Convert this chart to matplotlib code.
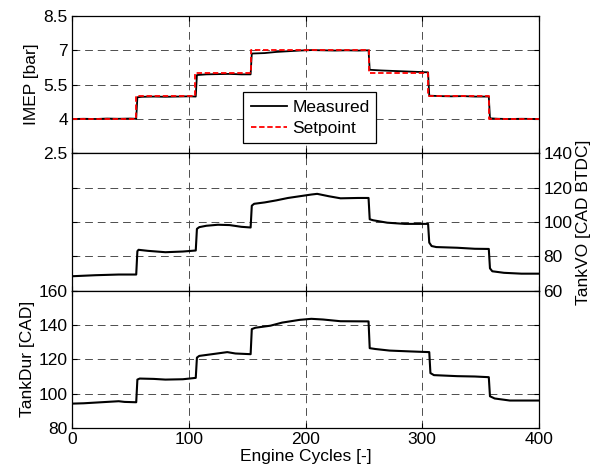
import matplotlib
matplotlib.use("Agg")
import matplotlib.pyplot as plt

plt.rcParams['font.family'] = ['Liberation Sans', 'DejaVu Sans']
plt.rcParams['font.size'] = 12.5

# ---- data ----
imep_sp_x = [0, 55, 105, 153, 254, 305, 357, 400]
imep_sp_y = [4, 5, 6, 7, 6, 5, 4, 4]

imep_x = [0, 10, 20, 30, 40, 50, 55, 56, 60, 70, 80, 90, 100, 106, 107, 115, 125, 135, 145, 153,
          154, 165, 175, 185, 195, 205, 215, 225, 235, 245, 254, 255, 265, 275, 285, 295, 305,
          306, 315, 325, 335, 345, 357, 358, 365, 375, 385, 400]
imep_y = [4.00, 4.01, 4.00, 4.02, 4.01, 4.02, 4.01, 4.95, 4.97, 4.98, 4.97, 4.98, 4.99, 4.98,
          5.92, 5.95, 5.96, 5.97, 5.95, 5.95, 6.86, 6.88, 6.93, 6.96, 6.99, 7.01, 7.00, 6.99,
          7.00, 6.99, 7.00, 6.15, 6.12, 6.10, 6.08, 6.06, 6.04, 5.02, 5.00, 4.99, 5.00, 4.98,
          4.98, 4.03, 4.01, 4.00, 4.01, 4.00]

vo_x = [0, 20, 40, 55, 56, 57, 65, 80, 95, 106, 107, 109, 115, 125, 135, 145, 153, 154, 156,
        165, 175, 185, 195, 205, 210, 220, 230, 245, 254, 255, 258, 270, 285, 305, 306, 308,
        312, 330, 345, 357, 358, 360, 370, 385, 400]
vo_y = [68.4, 69.0, 69.4, 69.4, 83.0, 83.8, 83.2, 82.4, 82.8, 83.4, 96.0, 97.0, 97.8, 98.4,
        98.2, 97.2, 96.8, 109.5, 110.6, 111.4, 112.6, 114.0, 115.0, 116.0, 116.4, 115.0, 113.8,
        114.0, 114.0, 101.6, 101.0, 99.6, 98.9, 98.9, 88.0, 86.0, 85.4, 85.0, 84.4, 84.3, 73.0,
        71.3, 70.4, 69.9, 69.9]

dur_x = [0, 10, 25, 40, 45, 55, 56, 58, 70, 80, 95, 106, 107, 109, 120, 133, 140, 153, 154,
         157, 170, 180, 195, 205, 215, 230, 254, 255, 260, 272, 290, 306, 307, 310, 330, 345,
         357, 358, 362, 375, 400]
dur_y = [94.2, 94.4, 95.0, 95.6, 95.2, 95.0, 108.2, 108.8, 108.6, 108.2, 108.4, 109.2, 121.0,
         122.0, 123.0, 124.2, 123.4, 123.0, 137.6, 138.4, 139.6, 141.4, 143.0, 143.6, 143.2,
         142.2, 142.1, 126.5, 126.0, 125.1, 124.6, 124.2, 112.0, 110.8, 110.2, 110.0, 109.6,
         98.5, 97.2, 96.0, 96.0]

x_ticks = [0, 100, 200, 300, 400]
imep_ticks = [2.5, 4, 5.5, 7, 8.5]
imep_labels = ['2.5', '4', '5.5', '7', '8.5']
vo_ticks = [60, 80, 100, 120, 140]
dur_ticks = [80, 100, 120, 140, 160]

# ---- figure ----
fig = plt.figure(figsize=(5.92, 4.73), dpi=100)
L, R, B, T = 72 / 592, 539 / 592, 1 - 428 / 473, 1 - 16 / 473
h = (T - B) / 3
ax1 = fig.add_axes([L, B + 2 * h, R - L, h])
ax2 = fig.add_axes([L, B + h, R - L, h], sharex=ax1)
ax3 = fig.add_axes([L, B, R - L, h], sharex=ax1)

grid_kw = dict(color='0.3', linewidth=0.7, linestyle=(0, (8, 5)))

for ax in (ax1, ax2, ax3):
    ax.set_xlim(0, 400)
    ax.set_xticks(x_ticks)
    ax.grid(True, **grid_kw)
    ax.tick_params(direction='in', length=3.5, width=0.8, top=True, right=True,
                   labelsize=12.5, pad=3)
    for s in ax.spines.values():
        s.set_linewidth(0.9)

ax1.plot(imep_x, imep_y, color='black', lw=1.3, label='Measured')
ax1.plot(imep_sp_x, imep_sp_y, color='red', lw=1.3, linestyle=(0, (3, 1.5)),
         drawstyle='steps-post', label='Setpoint')
ax1.set_ylim(2.5, 8.5)
ax1.set_yticks(imep_ticks)
ax1.set_yticklabels(imep_labels)
ax1.set_ylabel('IMEP [bar]', labelpad=3)
ax1.tick_params(labelbottom=False)
leg = ax1.legend(loc='lower left', bbox_to_anchor=(0.366, 0.072, 0.285, 0.363),
                 mode='expand', fancybox=False,
                 edgecolor='black', framealpha=1, fontsize=12.5, handlelength=2.1,
                 borderpad=0.45, labelspacing=0.3, handletextpad=0.3, borderaxespad=0)
leg.get_frame().set_linewidth(0.9)

ax2.plot(vo_x, vo_y, color='black', lw=1.5)
ax2.set_ylim(60, 140)
ax2.set_yticks(vo_ticks)
ax2.tick_params(labelleft=False, labelright=True, labelbottom=False)
ax2.yaxis.set_label_position('right')
ax2.set_ylabel('TankVO [CAD BTDC]', labelpad=3)

ax3.plot(dur_x, dur_y, color='black', lw=1.5)
ax3.set_ylim(80, 160)
ax3.set_yticks(dur_ticks)
ax3.set_ylabel('TankDur [CAD]', labelpad=3)
ax3.set_xlabel('Engine Cycles [-]', labelpad=1)

fig.savefig('out.png', dpi=100)
